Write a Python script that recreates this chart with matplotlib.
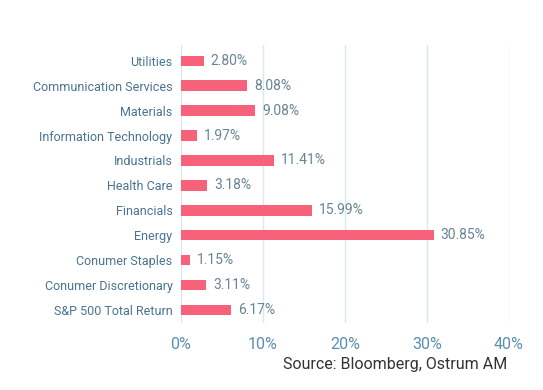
import matplotlib.pyplot as plt

categories = ['S&P 500 Total Return', 'Conumer Discretionary', 'Conumer Staples',
              'Energy', 'Financials', 'Health Care', 'Industrials',
              'Information Technology', 'Materials', 'Communication Services',
              'Utilities']
values = [6.17, 3.11, 1.15, 30.85, 15.99, 3.18, 11.41, 1.97, 9.08, 8.08, 2.80]
xticks = [0, 10, 20, 30, 40]

plt.rcParams['font.family'] = ['Roboto', 'DejaVu Sans']

fig = plt.figure(figsize=(5.43, 3.9), dpi=100)
ax = fig.add_axes([0.333, 0.172, 0.604, 0.713])

ypos = range(len(categories))
bars = ax.barh(ypos, values, height=0.42, color='#F6627A', zorder=3)
for y, v in zip(ypos, values):
    ax.annotate(f'{v:.2f}%', (v, y), xytext=(5, 0), textcoords='offset points',
                va='center', ha='left', fontsize=10, color='#688595')

ax.set_xlim(0, 40)
ax.set_ylim(-0.52, 10.64)
ax.set_xticks(xticks)
ax.set_xticklabels([f'{t}%' for t in xticks])
ax.set_yticks(list(ypos))
ax.set_yticklabels(categories)
ax.tick_params(axis='x', length=0, pad=10, labelsize=11.5, labelcolor='#5b8fb0')
ax.tick_params(axis='y', length=0, pad=6, labelsize=9, labelcolor='#4a7391')
ax.grid(axis='x', color='#d6eaf2', linewidth=1, zorder=0)
for s in ax.spines.values():
    s.set_visible(False)

fig.text(0.935, 0.045, 'Source: Bloomberg, Ostrum AM', ha='right', va='bottom',
         fontsize=11.5, color='#333333')

fig.savefig('out.png', dpi=100)
